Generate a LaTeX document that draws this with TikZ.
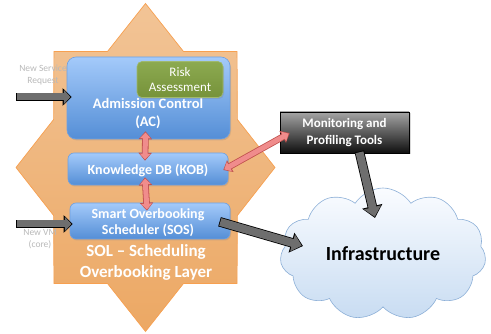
\documentclass[tikz,border=0pt]{standalone}
\usepackage{fontspec}
\setmainfont{Carlito}
\usetikzlibrary{arrows.meta,shapes.symbols,shadows,calc}
\definecolor{startop}{RGB}{242,196,150}
\definecolor{starbot}{RGB}{236,168,100}
\definecolor{starline}{RGB}{247,160,80}
\definecolor{bluetop}{RGB}{164,202,250}
\definecolor{bluebot}{RGB}{84,142,214}
\definecolor{blueline}{RGB}{110,160,225}
\definecolor{greentop}{RGB}{140,170,80}
\definecolor{greenbot}{RGB}{118,146,58}
\definecolor{greenline}{RGB}{160,185,110}
\definecolor{montop}{RGB}{165,165,165}
\definecolor{monbot}{RGB}{15,15,15}
\definecolor{pinkfill}{RGB}{240,140,140}
\definecolor{pinkline}{RGB}{192,80,77}
\definecolor{arrfill}{RGB}{110,110,110}
\definecolor{cloudtop}{RGB}{250,252,255}
\definecolor{cloudbot}{RGB}{200,220,242}
\definecolor{cloudline}{RGB}{140,175,215}
\definecolor{labelgray}{RGB}{185,185,185}
\tikzset{
  bluebox/.style={rounded corners=6pt, top color=bluetop, bottom color=bluebot, draw=blueline, line width=0.6pt,
    drop shadow={opacity=0.25, shadow xshift=1pt, shadow yshift=-1.5pt}},
  whitetxt/.style={text=white, font=\bfseries\fontsize{14.5}{18}\selectfont, align=center, inner sep=0pt},
  graylbl/.style={text=labelgray, font=\fontsize{9.5}{12}\selectfont, align=center, inner sep=0pt},
  gout/.style={black, line width=8.6pt, -{Triangle[length=9pt, width=17pt]}, shorten <=-0.8pt},
  gin/.style={arrfill, line width=7pt, -{Triangle[length=6.6pt, width=14pt]}, shorten >=1.3pt},
  dout/.style={black, line width=9.6pt, -{Triangle[length=12pt, width=20pt]}, shorten <=-0.8pt},
  din/.style={arrfill, line width=8pt, -{Triangle[length=9.6pt, width=17pt]}, shorten >=1.3pt},
  pout/.style={pinkline, line width=6.6pt, {Triangle[length=8pt, width=13pt]}-{Triangle[length=8pt, width=13pt]}},
  pin/.style={pinkfill, line width=5pt, {Triangle[length=5.8pt, width=10.4pt]}-{Triangle[length=5.8pt, width=10.4pt]}, shorten >=1.2pt, shorten <=1.2pt},
}
\begin{document}
\begin{tikzpicture}[x=1pt,y=-1pt]
\useasboundingbox (0,0) rectangle (491,334);
% star
\shade[top color=startop, bottom color=starbot, draw=starline, line width=0.7pt]
  (145.5,331.5) \foreach \a in {0,45,...,315}{
    -- ({145.5+99.45*cos(\a+112.5)},{167.5+125.5*sin(\a+112.5)})
    -- ({145.5+129.5*cos(\a+135)},{167.5+164*sin(\a+135)}) } -- cycle;
% side labels
\node[graylbl] (lblsr) at (43,75) {New Service\\Request};
\node[graylbl] (lblvm) at (40,239) {New VM\\(core)};
% boxes
\node[bluebox, rounded corners=9pt, minimum width=163pt, minimum height=82pt, inner sep=0pt] (AC) at (148.5,98) {};
\node[whitetxt] (ACt) at (148,114) {Admission Control\\(AC)};
\node[rounded corners=5pt, top color=greentop, bottom color=greenbot, draw=greenline, line width=0.6pt,
  minimum width=86pt, minimum height=36pt, inner sep=0pt, text=white, align=center,
  font=\fontsize{13}{15}\selectfont,
  drop shadow={opacity=0.25, shadow xshift=1pt, shadow yshift=-1.5pt}] (RA) at (180,79.5) {Risk\\Assessment};
\node[bluebox, minimum width=160pt, minimum height=32pt, inner sep=0pt] (KOB) at (148,169) {};
\node[whitetxt, font=\bfseries\fontsize{14}{17}\selectfont] (KOBt) at (148,170) {Knowledge DB (KOB)};
\node[bluebox, minimum width=160pt, minimum height=36pt, inner sep=0pt] (SOS) at (150,221) {};
\node[whitetxt, font=\bfseries\fontsize{14}{16}\selectfont] (SOSt) at (148,223) {Smart Overbooking\\Scheduler (SOS)};
\node[whitetxt, font=\bfseries\fontsize{17}{21}\selectfont] (SOL) at (146,262.5) {SOL -- Scheduling\\Overbooking Layer};
% monitoring
\node[top color=montop, bottom color=monbot, draw=black, line width=0.6pt, minimum width=129pt, minimum height=41pt,
  inner sep=0pt, text=white, align=center, font=\bfseries\fontsize{13}{16.5}\selectfont,
  drop shadow={opacity=0.3, shadow xshift=1.5pt, shadow yshift=-1.5pt}] (MON) at (344.5,132.5) {Monitoring and\\Profiling Tools};
% cloud
\node[cloud, cloud puffs=11, cloud puff arc=115, cloud ignores aspect, minimum width=206pt, minimum height=132pt,
  top color=cloudtop, bottom color=cloudbot, draw=cloudline, line width=0.6pt, inner sep=0pt,
  font=\bfseries\fontsize{20}{24}\selectfont] (INF) at (383,254) {Infrastructure};
% input arrows
\coordinate (in1) at (17,97);
\coordinate (in2) at (17,224);
\draw[gout] (in1) -- ($(AC.west |- in1)+(5,0)$);
\draw[gin] (in1) -- ($(AC.west |- in1)+(5,0)$);
\draw[gout] (in2) -- ($(SOS.west |- in2)+(3,0)$);
\draw[gin] (in2) -- ($(SOS.west |- in2)+(3,0)$);
% pink arrows
\draw[pout] ($(AC.south)+(-3,-8)$) -- ($(KOB.north)+(-3,8)$);
\draw[pin] ($(AC.south)+(-3,-8)$) -- ($(KOB.north)+(-3,8)$);
\draw[pout] ($(KOB.south)+(-3,-8)$) -- ($(SOS.north)+(-3,8)$);
\draw[pin] ($(KOB.south)+(-3,-8)$) -- ($(SOS.north)+(-3,8)$);
\draw[pout] ($(KOB.east)+(-5,1)$) -- ($(MON.west)+(10,0.5)$);
\draw[pin] ($(KOB.east)+(-5,1)$) -- ($(MON.west)+(10,0.5)$);
% to infrastructure
\draw[dout] ($(SOS.east)+(-10,1)$) -- ($(INF.center)+(-80,-8)$);
\draw[din] ($(SOS.east)+(-10,1)$) -- ($(INF.center)+(-80,-8)$);
\draw[dout] ($(MON.south)+(15,-1)$) -- ($(INF.center)+(-8,-36)$);
\draw[din] ($(MON.south)+(15,-1)$) -- ($(INF.center)+(-8,-36)$);
\end{tikzpicture}
\end{document}
